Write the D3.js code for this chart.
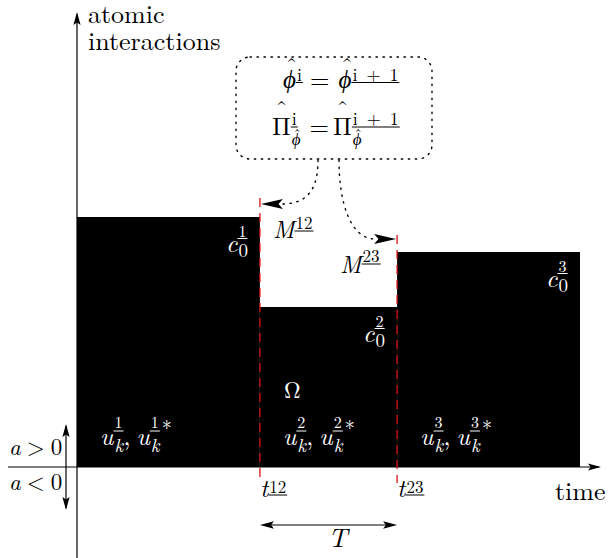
<!DOCTYPE html>
<html>
<head>
<meta charset="utf-8">
<script src="https://cdn.jsdelivr.net/npm/d3@7"></script>
<style>
  body { margin: 0; background: #fff; }
</style>
</head>
<body>
<div id="chart"></div>
<script>
// time boundaries of the regions: start, t^12, t^23, end
var boundaries = [0, 4, 7, 11];
// interaction level of each region
var levels = [5, 3.2, 4.3];
var regionIds = ["1", "2", "3"];
var interfaceIds = ["12", "23"];

var FONT = "'Latin Modern Roman', 'Liberation Serif', 'DejaVu Serif', serif";
var width = 608, height = 558;

var x = d3.scaleLinear().domain([0, 11]).range([77, 580]);
var y = d3.scaleLinear().domain([0, 9]).range([467, 17]);

var svg = d3.select("#chart").append("svg")
    .attr("width", width)
    .attr("height", height);

function txt(g) {
    return g.append("text").style("font-family", FONT).style("white-space", "pre");
}

// regions as black blocks
var regions = regionIds.map(function (id, i) {
    return { id: id, x0: boundaries[i], x1: boundaries[i + 1], level: levels[i] };
});

svg.selectAll("rect.region")
    .data(regions)
    .enter()
    .append("rect")
    .attr("class", "region")
    .attr("x", function (d) { return x(d.x0); })
    .attr("y", function (d) { return y(d.level); })
    .attr("width", function (d) { return x(d.x1) - x(d.x0); })
    .attr("height", function (d) { return y(0) - y(d.level); })
    .attr("fill", "#000");

// arrow heads, latex style
function head(g, tx, ty, dir, len, half) {
    var ux = Math.cos(dir), uy = Math.sin(dir);
    var bx = tx - ux * len, by = ty - uy * len;
    g.append("path")
        .attr("d", "M" + tx + "," + ty +
            "L" + (bx - uy * half) + "," + (by + ux * half) +
            "L" + (bx + ux * len * 0.2) + "," + (by + uy * len * 0.2) +
            "L" + (bx + uy * half) + "," + (by - ux * half) + "Z")
        .attr("fill", "#000");
}

// axes
var axes = svg.append("g");
axes.append("line").attr("x1", x(0)).attr("x2", x(0)).attr("y1", height).attr("y2", 14)
    .attr("stroke", "#000").attr("stroke-width", 1.2);
head(axes, x(0), 12, -Math.PI / 2, 13, 3.6);
axes.append("line").attr("x1", 8).attr("x2", 599).attr("y1", y(0)).attr("y2", y(0))
    .attr("stroke", "#000").attr("stroke-width", 1.2);
head(axes, 601, y(0), 0, 13, 3.6);

// a > 0 / a < 0 arrow
axes.append("line").attr("x1", 66).attr("x2", 66).attr("y1", 426).attr("y2", 508)
    .attr("stroke", "#000").attr("stroke-width", 1.2);
head(axes, 66, 424, -Math.PI / 2, 13, 3.6);
head(axes, 66, 510, Math.PI / 2, 13, 3.6);

// interfaces (red dashed)
var ifaceTops = [y(levels[0]) - 19, y(levels[2]) - 17];
svg.selectAll("line.iface")
    .data(interfaceIds)
    .enter()
    .append("line")
    .attr("class", "iface")
    .attr("x1", function (d, i) { return x(boundaries[i + 1]); })
    .attr("x2", function (d, i) { return x(boundaries[i + 1]); })
    .attr("y1", function (d, i) { return ifaceTops[i]; })
    .attr("y2", 483)
    .attr("stroke", "#d81010")
    .attr("stroke-width", 1.3)
    .attr("stroke-dasharray", "9,6");

// T interval arrow
var tY = 525;
axes.append("line").attr("x1", x(boundaries[1]) + 4).attr("x2", x(boundaries[2]) - 4)
    .attr("y1", tY).attr("y2", tY).attr("stroke", "#000").attr("stroke-width", 1.2);
head(axes, x(boundaries[1]), tY, Math.PI, 14, 3.8);
head(axes, x(boundaries[2]), tY, 0, 14, 3.8);

// math label helper: base glyph + underlined superscript + subscript
function mathLabel(g, x0, y0, parts, fill, size) {
    size = size || 25;
    var cx = x0;
    parts.forEach(function (p) {
        cx += p.pre || 0;
        var b = txt(g)
            .attr("x", cx).attr("y", y0)
            .attr("font-size", p.size || size)
            .attr("font-style", p.upright ? "normal" : "italic")
            .attr("fill", fill)
            .text(p.base);
        var bw = b.node().getComputedTextLength();
        if (p.hat) {
            txt(g).attr("x", cx + bw / 2 + (p.upright ? 0 : 2)).attr("y", y0 - p.hat)
                .attr("text-anchor", "middle").attr("font-size", size)
                .attr("fill", fill).text("\u02C6");
        }
        cx += bw;
        var w = 0;
        if (p.sup) {
            var sy = y0 - (p.supUp || 12);
            var s = txt(g).attr("x", cx + 1).attr("y", sy)
                .attr("font-size", p.supSize || 16).attr("fill", fill).text(p.sup);
            var sw = s.node().getComputedTextLength();
            g.append("line").attr("x1", cx).attr("x2", cx + sw + 2)
                .attr("y1", sy + (p.ul || 2)).attr("y2", sy + (p.ul || 2))
                .attr("stroke", fill).attr("stroke-width", 1);
            w = sw + 2;
        }
        if (p.sub) {
            var t = txt(g).attr("x", cx + 1).attr("y", y0 + (p.subDown || 8))
                .attr("font-size", p.subSize || 19)
                .attr("font-style", p.subUpright ? "normal" : "italic")
                .attr("fill", fill).text(p.sub);
            var tw = t.node().getComputedTextLength();
            if (p.subHat) {
                txt(g).attr("x", cx + 1 + tw / 2 + 1).attr("y", y0 + (p.subDown || 8) - p.subHat)
                    .attr("text-anchor", "middle").attr("font-size", 15)
                    .attr("fill", fill).text("\u02C6");
            }
            w = Math.max(w, tw + 1);
        }
        cx += w;
        if (p.star) {
            txt(g).attr("x", cx + 2).attr("y", y0 - 10)
                .attr("font-size", 20).attr("fill", fill).text("*");
            cx += 12;
        }
    });
    return cx;
}

var labels = svg.append("g");

// c_0^i labels in each region
regions.forEach(function (d) {
    mathLabel(labels, x(d.x1) - 34, y(d.level) + 35,
        [{ base: "c", sup: d.id, sub: "0", subUpright: true, supUp: 15, ul: 1.5, subDown: 5 }], "#fff");
});

// u_k^i, u_k^i* labels
regions.forEach(function (d) {
    mathLabel(labels, x(d.x0) + 23, 445, [
        { base: "u", sup: d.id, sub: "k", supUp: 17, ul: 3, subDown: 7 },
        { base: ",", upright: true },
        { base: "u", pre: 6, sup: d.id, sub: "k", supUp: 17, ul: 3, subDown: 7, star: true }
    ], "#fff");
});

// Omega
txt(labels).attr("x", x(boundaries[1]) + 24).attr("y", 398)
    .attr("font-size", 23).attr("fill", "#fff").text("\u03A9");

// M labels at the interfaces
mathLabel(labels, x(boundaries[1]) + 13, 238, [{ base: "M", sup: interfaceIds[0], supSize: 17, supUp: 9, ul: 2 }], "#000", 24);
mathLabel(labels, x(boundaries[2]) - 57, 273, [{ base: "M", sup: interfaceIds[1], supSize: 17, supUp: 11, ul: 2 }], "#000", 24);

// t labels on the time axis
interfaceIds.forEach(function (id, i) {
    mathLabel(labels, x(boundaries[i + 1]), 497, [{ base: "t", sup: id, supSize: 17, supUp: 4, ul: 2 }], "#000");
});

// axis texts
txt(labels).attr("x", 88).attr("y", 23).attr("font-size", 26).text("atomic");
txt(labels).attr("x", 88).attr("y", 50).attr("font-size", 26).text("interactions");
txt(labels).attr("x", 555).attr("y", 500).attr("font-size", 26).text("time");
txt(labels).attr("x", 328).attr("y", 547).attr("font-size", 27).attr("font-style", "italic").text("T");

mathLabel(labels, 9, 455, [{ base: "a" }, { base: ">", upright: true, pre: 6 }, { base: "0", upright: true, pre: 6 }], "#000", 23);
mathLabel(labels, 9, 490, [{ base: "a" }, { base: "<", upright: true, pre: 6 }, { base: "0", upright: true, pre: 6 }], "#000", 23);

// dotted box with the update rule
var box = svg.append("g");
box.append("rect").attr("x", 236).attr("y", 57).attr("width", 196).attr("height", 102)
    .attr("rx", 14).attr("fill", "none").attr("stroke", "#000")
    .attr("stroke-width", 1.4).attr("stroke-dasharray", "1.4,5.6").attr("stroke-linecap", "round");

mathLabel(box, 283, 88, [
    { base: "\u03D5", hat: 13, sup: "i", supSize: 18, supUp: 7, ul: 1.5 },
    { base: "=", upright: true, pre: 7 },
    { base: "\u03D5", pre: 9, hat: 13, sup: "i\u2002+\u20021", supSize: 18, supUp: 7, ul: 1.5 }
], "#000", 25);
mathLabel(box, 272, 135, [
    { base: "\u03A0", upright: true, hat: 17, sup: "i", supSize: 18, supUp: 10, ul: 2, sub: "\u03D5", subSize: 17, subHat: 5, subDown: 10 },
    { base: "=", upright: true, pre: 9 },
    { base: "\u03A0", upright: true, pre: 4, hat: 17, sup: "i\u2002+\u20021", supSize: 18, supUp: 10, ul: 2, sub: "\u03D5", subSize: 17, subHat: 5, subDown: 10 }
], "#000", 25);

// dotted arrows from the box to the interfaces
var xa = x(boundaries[1]), xb = x(boundaries[2]);
var ya = ifaceTops[0] + 6, yb = ifaceTops[1] + 4;
box.append("path")
    .attr("d", "M318,160 C318,186 310," + ya + " " + (xa + 22) + "," + ya)
    .attr("fill", "none").attr("stroke", "#000").attr("stroke-width", 1.4)
    .attr("stroke-dasharray", "1.4,5.6").attr("stroke-linecap", "round");
head(box, xa + 1, ya, Math.PI, 22, 5);
box.append("path")
    .attr("d", "M339,160 C339,202 350," + yb + " " + (xb - 22) + "," + yb)
    .attr("fill", "none").attr("stroke", "#000").attr("stroke-width", 1.4)
    .attr("stroke-dasharray", "1.4,5.6").attr("stroke-linecap", "round");
head(box, xb - 1, yb, 0, 22, 5);
</script>
</body>
</html>
